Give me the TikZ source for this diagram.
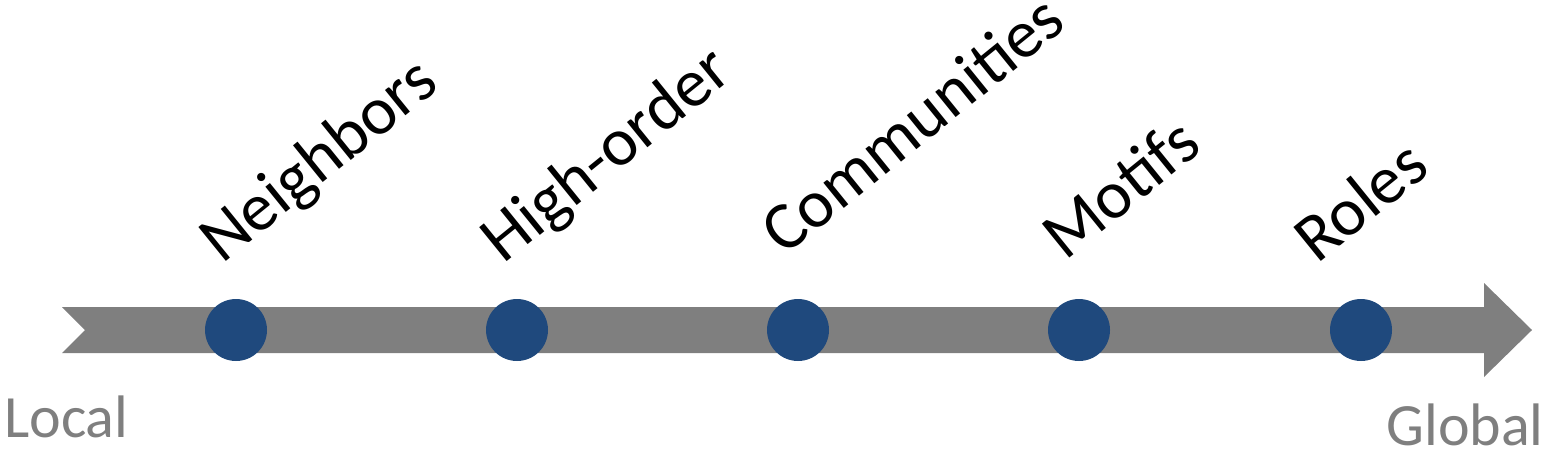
\documentclass[tikz,border=0pt]{standalone}
\usepackage{fontspec}
\setmainfont{Carlito}
\definecolor{bargray}{HTML}{7F7F7F}
\definecolor{dotblue}{HTML}{1F497D}
\begin{document}
\begin{tikzpicture}[x=1pt,y=-1pt,
  dotnode/.style={circle,fill=dotblue,minimum size=62pt,inner sep=0pt},
  lbl/.style={anchor=base west,rotate=39,inner sep=0pt,font=\fontsize{68}{68}\selectfont,text=black},
  endlbl/.style={inner sep=0pt,font=\fontsize{60}{60}\selectfont,text=bargray}]
\useasboundingbox (0,0) rectangle (1555,453);
\fill[bargray] (62,307) -- (1484,307) -- (1484,283) -- (1532,330) -- (1484,377) -- (1484,353) -- (62,353) -- (85,330) -- cycle;
\foreach \n/\x in {a/236,b/517,c/798,d/1079,e/1361}{
  \node[dotnode] (\n) at (\x,330) {};
}
\node[lbl] (la) at (222,265) {Neighbors};
\node[lbl] (lb) at (503,265) {High-order};
\node[lbl] (lc) at (784,257) {Communities};
\node[lbl] (ld) at (1065,262) {Motifs};
\node[lbl] (le) at (1317,265) {Roles};
\node[endlbl,anchor=base west] (local) at (4,437) {Local};
\node[endlbl,anchor=base east] (global) at (1544,445) {Global};
\end{tikzpicture}
\end{document}
